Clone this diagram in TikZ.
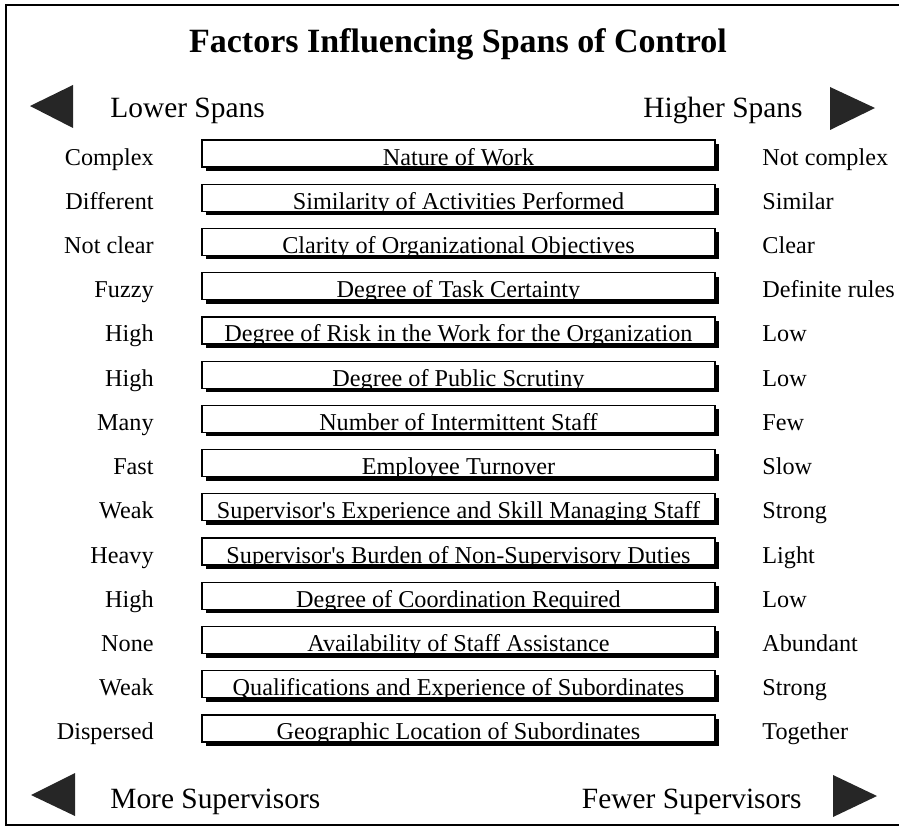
\documentclass[tikz,border=0pt]{standalone}
\usepackage{fontspec}
\setmainfont{Liberation Serif}
\usetikzlibrary{shadows}

\begin{document}
\begin{tikzpicture}[
			x=0.5pt,y=-0.5pt,
			every node/.style={font=\fontsize{12.1}{14}\selectfont,inner xsep=0pt}, % body text size
			factor/.style={draw,line width=0.6pt,fill=white,minimum width=256.5pt,inner ysep=0pt,
				text height=12.5pt,text depth=1pt,anchor=base,
				general shadow={fill=black,shadow xshift=2pt,shadow yshift=-2pt}},
			lower/.style={anchor=base east},
			higher/.style={anchor=base west},
			heading/.style={anchor=base,font=\fontsize{14.7}{17}\selectfont},
			pointer/.style={fill=black!85}
			]
			\useasboundingbox (0,0) rectangle (899,829);
			\draw[line width=1pt] (899,5) -- (6,5) -- (6,825) -- (899,825);

			\node[anchor=base,font=\bfseries\fontsize{17}{20}\selectfont] (title) at (458,53) {Factors Influencing Spans of Control};

			% top row
			\fill[pointer] (73,85) -- (30,106) -- (73,128) -- cycle;
			\fill[pointer] (830,87) -- (875,108) -- (830,130) -- cycle;
			\node[heading,anchor=base west] (lowspan) at (110,118) {Lower Spans};
			\node[heading,anchor=base east] (highspan) at (803,118) {Higher Spans};

			% one row per factor
			\foreach \lo/\txt/\hi [count=\i] in {
				Complex/Nature of Work/Not complex,
				Different/Similarity of Activities Performed/Similar,
				Not clear/Clarity of Organizational Objectives/Clear,
				Fuzzy/Degree of Task Certainty/Definite rules,
				High/Degree of Risk in the Work for the Organization/Low,
				High/Degree of Public Scrutiny/Low,
				Many/Number of Intermittent Staff/Few,
				Fast/Employee Turnover/Slow,
				Weak/Supervisor\textquotesingle s Experience and Skill Managing Staff/Strong,
				Heavy/Supervisor\textquotesingle s Burden of Non-Supervisory Duties/Light,
				High/Degree of Coordination Required/Low,
				None/Availability of Staff Assistance/Abundant,
				Weak/Qualifications and Experience of Subordinates/Strong,
				Dispersed/Geographic Location of Subordinates/Together}
			{
				\pgfmathsetmacro\y{165+(\i-1)*44.23}
				\node[factor] (f\i) at (458.5,\y) {\txt};
				\node[lower] (lo\i) at (154,\y) {\lo};
				\node[higher] (hi\i) at (762,\y) {\hi};
			}

			% bottom row
			\fill[pointer] (75,773) -- (31,795) -- (75,816) -- cycle;
			\fill[pointer] (833,775) -- (877,796) -- (833,817) -- cycle;
			\node[heading,anchor=base west] (moresup) at (110,808) {More Supervisors};
			\node[heading,anchor=base east] (fewersup) at (802,808) {Fewer Supervisors};
		\end{tikzpicture}
\end{document}
